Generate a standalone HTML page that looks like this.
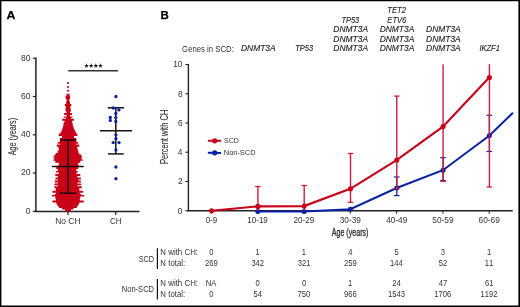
<!DOCTYPE html>
<html><head><meta charset="utf-8"><style>
html,body{margin:0;padding:0;background:#fff;width:520px;height:307px;overflow:hidden}
svg{display:block;will-change:transform}
text{font-family:"Liberation Sans", sans-serif;font-kerning:none}
</style></head><body>
<svg width="520" height="307" viewBox="0 0 520 307">
<rect width="520" height="307" fill="#fff"/>
<path d="M0 0H520V307H0Z M1.4 1.2V305.4H518.4V1.2Z" fill="#000" fill-rule="evenodd"/>
<text x="6.59" y="18.60" font-size="11.77" fill="#000" textLength="8.93" lengthAdjust="spacingAndGlyphs" font-weight="bold" stroke="#000" stroke-width="0.25">A</text>
<line x1="35.9" y1="57.5" x2="35.9" y2="212.1" stroke="#222" stroke-width="1.5"/>
<line x1="32.8" y1="58.2" x2="35.9" y2="58.2" stroke="#222" stroke-width="1.2"/>
<text x="21.00" y="60.60" font-size="8.58" fill="#333333" textLength="9.54" lengthAdjust="spacingAndGlyphs">80</text>
<line x1="32.8" y1="96.5" x2="35.9" y2="96.5" stroke="#222" stroke-width="1.2"/>
<text x="21.00" y="98.90" font-size="8.58" fill="#333333" textLength="9.54" lengthAdjust="spacingAndGlyphs">60</text>
<line x1="32.8" y1="134.8" x2="35.9" y2="134.8" stroke="#222" stroke-width="1.2"/>
<text x="21.00" y="137.20" font-size="8.58" fill="#333333" textLength="9.54" lengthAdjust="spacingAndGlyphs">40</text>
<line x1="32.8" y1="173.0" x2="35.9" y2="173.0" stroke="#222" stroke-width="1.2"/>
<text x="21.00" y="175.40" font-size="8.58" fill="#333333" textLength="9.54" lengthAdjust="spacingAndGlyphs">20</text>
<line x1="32.8" y1="211.3" x2="35.9" y2="211.3" stroke="#222" stroke-width="1.2"/>
<text x="25.77" y="213.70" font-size="8.58" fill="#333333" textLength="4.77" lengthAdjust="spacingAndGlyphs">0</text>
<line x1="35.15" y1="211.4" x2="139.5" y2="211.4" stroke="#222" stroke-width="1.5"/>
<line x1="67.9" y1="211.4" x2="67.9" y2="214.9" stroke="#222" stroke-width="1.2"/>
<line x1="115.7" y1="211.4" x2="115.7" y2="214.9" stroke="#222" stroke-width="1.2"/>
<text x="55.31" y="224.20" font-size="8.87" fill="#333333" textLength="25.17" lengthAdjust="spacingAndGlyphs">No CH</text>
<text x="110.09" y="224.20" font-size="8.87" fill="#333333" textLength="11.56" lengthAdjust="spacingAndGlyphs">CH</text>
<text transform="rotate(-90)" x="-155.21" y="15.50" font-size="10.03" fill="#333333" textLength="37.26" lengthAdjust="spacingAndGlyphs" stroke="#333333" stroke-width="0.12">Age (years)</text>
<line x1="68.2" y1="70.8" x2="118" y2="70.8" stroke="#333" stroke-width="1.4"/>
<polygon points="86.50,63.30 87.09,64.89 88.78,64.96 87.45,66.01 87.91,67.64 86.50,66.70 85.09,67.64 85.55,66.01 84.22,64.96 85.91,64.89" fill="#111"/>
<polygon points="91.15,63.30 91.74,64.89 93.43,64.96 92.10,66.01 92.56,67.64 91.15,66.70 89.74,67.64 90.20,66.01 88.87,64.96 90.56,64.89" fill="#111"/>
<polygon points="95.80,63.30 96.39,64.89 98.08,64.96 96.75,66.01 97.21,67.64 95.80,66.70 94.39,67.64 94.85,66.01 93.52,64.96 95.21,64.89" fill="#111"/>
<polygon points="100.45,63.30 101.04,64.89 102.73,64.96 101.40,66.01 101.86,67.64 100.45,66.70 99.04,67.64 99.50,66.01 98.17,64.96 99.86,64.89" fill="#111"/>
<path d="M66.60,93.70 L66.60,95.70 L65.60,95.70 L65.60,99.10 L66.60,99.10 L66.60,101.50 L66.10,101.50 L66.10,104.00 L64.80,104.00 L64.80,106.40 L66.10,106.40 L66.10,107.90 L65.40,107.90 L65.40,110.00 L65.60,110.00 L65.60,111.50 L66.60,111.50 L66.60,112.90 L64.10,112.90 L64.10,114.90 L66.60,114.90 L66.60,116.40 L63.70,116.40 L63.70,117.80 L66.10,117.80 L66.10,118.80 L62.20,118.80 L62.20,120.80 L64.60,120.80 L64.60,122.20 L63.70,122.20 L63.70,124.00 L63.50,124.00 L63.50,125.70 L63.00,125.70 L63.00,127.60 L62.50,127.60 L62.50,129.60 L61.70,129.60 L61.70,131.50 L60.70,131.50 L60.70,133.50 L58.80,133.50 L58.80,135.90 L62.00,135.90 L62.00,137.90 L59.90,137.90 L59.90,139.50 L60.30,139.50 L60.30,140.60 L59.50,140.60 L59.50,142.20 L57.60,142.20 L57.60,143.70 L60.30,143.70 L60.30,144.50 L56.80,144.50 L56.80,146.80 L58.40,146.80 L58.40,148.30 L58.80,148.30 L58.80,150.60 L57.60,150.60 L57.60,153.00 L55.80,153.00 L55.80,154.40 L54.40,154.40 L54.40,156.40 L53.40,156.40 L53.40,157.80 L54.40,157.80 L54.40,159.30 L53.40,159.30 L53.40,160.80 L55.30,160.80 L55.30,162.70 L58.80,162.70 L58.80,165.70 L57.00,165.70 L57.00,167.10 L56.30,167.10 L56.30,169.10 L57.80,169.10 L57.80,171.00 L55.80,171.00 L55.80,172.50 L58.80,172.50 L58.80,174.00 L55.30,174.00 L55.30,176.00 L57.80,176.00 L57.80,177.40 L55.50,177.40 L55.50,179.50 L57.80,179.50 L57.80,180.40 L54.80,180.40 L54.80,182.40 L57.80,182.40 L57.80,183.40 L54.40,183.40 L54.40,185.30 L57.80,185.30 L57.80,186.30 L54.40,186.30 L54.40,188.30 L55.80,188.30 L55.80,190.70 L52.40,190.70 L52.40,192.70 L55.80,192.70 L55.80,194.10 L54.80,194.10 L54.80,195.10 L51.90,195.10 L51.90,196.60 L55.30,196.60 L55.30,198.50 L55.80,198.50 L55.80,200.50 L52.40,200.50 L52.40,202.50 L56.30,202.50 L56.30,203.90 L57.30,203.90 L57.30,205.90 L58.80,205.90 L58.80,208.00 L62.00,208.00 L62.00,209.50 L65.00,209.50 L65.00,211.00 L68.00,212.00 L71.00,211.00 L71.00,209.50 L73.50,209.50 L73.50,208.00 L76.90,208.00 L76.90,205.90 L78.30,205.90 L78.30,203.90 L79.30,203.90 L79.30,202.50 L83.70,202.50 L83.70,200.50 L79.80,200.50 L79.80,198.50 L80.30,198.50 L80.30,196.60 L84.20,196.60 L84.20,195.10 L81.30,195.10 L81.30,194.10 L79.80,194.10 L79.80,192.70 L83.20,192.70 L83.20,190.70 L79.30,190.70 L79.30,188.30 L81.80,188.30 L81.80,186.30 L77.40,186.30 L77.40,185.30 L81.30,185.30 L81.30,183.40 L77.40,183.40 L77.40,182.40 L80.80,182.40 L80.80,180.40 L78.30,180.40 L78.30,179.50 L80.80,179.50 L80.80,177.40 L77.40,177.40 L77.40,176.00 L80.30,176.00 L80.30,174.00 L76.40,174.00 L76.40,172.50 L77.80,172.50 L77.80,171.00 L76.40,171.00 L76.40,169.10 L78.30,169.10 L78.30,167.10 L79.00,167.10 L79.00,165.70 L78.30,165.70 L78.30,162.70 L80.30,162.70 L80.30,160.80 L82.70,160.80 L82.70,159.30 L81.30,159.30 L81.30,157.80 L82.20,157.80 L82.20,156.40 L81.30,156.40 L81.30,154.40 L79.30,154.40 L79.30,153.00 L78.40,153.00 L78.40,150.60 L77.60,150.60 L77.60,148.30 L77.20,148.30 L77.20,146.80 L79.20,146.80 L79.20,144.50 L75.70,144.50 L75.70,143.70 L78.40,143.70 L78.40,142.20 L76.50,142.20 L76.50,140.60 L75.70,140.60 L75.70,139.50 L76.10,139.50 L76.10,137.90 L74.00,137.90 L74.00,135.90 L77.40,135.90 L77.40,133.50 L75.90,133.50 L75.90,131.50 L74.90,131.50 L74.90,129.60 L73.90,129.60 L73.90,127.60 L73.30,127.60 L73.30,125.70 L72.80,125.70 L72.80,124.00 L72.50,124.00 L72.50,122.20 L72.00,122.20 L72.00,120.80 L73.90,120.80 L73.90,118.80 L71.00,118.80 L71.00,117.80 L72.50,117.80 L72.50,116.40 L70.00,116.40 L70.00,114.90 L72.00,114.90 L72.00,112.90 L70.00,112.90 L70.00,111.50 L71.00,111.50 L71.00,110.00 L70.70,110.00 L70.70,107.90 L70.00,107.90 L70.00,106.40 L71.30,106.40 L71.30,104.00 L70.00,104.00 L70.00,101.50 L69.30,101.50 L69.30,99.10 L70.00,99.10 L70.00,95.70 L69.50,95.70 L69.50,93.70Z" fill="#c80018"/>
<circle cx="68.06" cy="83.1" r="1.05" fill="#c80018"/>
<circle cx="68.06" cy="87.0" r="1.05" fill="#c80018"/>
<circle cx="68.06" cy="90.8" r="1.05" fill="#c80018"/>
<g stroke="#1a0a0a" stroke-width="1.5">
<line x1="68.1" y1="140.0" x2="68.1" y2="193.2"/>
<line x1="60.0" y1="140.0" x2="76.3" y2="140.0"/>
<line x1="51.9" y1="166.4" x2="83.7" y2="166.4"/>
<line x1="59.8" y1="193.2" x2="76.3" y2="193.2"/>
</g>
<g stroke="#151515" stroke-width="1.5">
<line x1="115.8" y1="107.8" x2="115.8" y2="153.9"/>
<line x1="107.7" y1="107.8" x2="124" y2="107.8"/>
<line x1="99.9" y1="130.7" x2="132.1" y2="130.7"/>
<line x1="108.1" y1="153.9" x2="123.7" y2="153.9"/>
</g>
<circle cx="115.9" cy="96.5" r="1.65" fill="#0820a6"/>
<circle cx="113.2" cy="108" r="1.65" fill="#0820a6"/>
<circle cx="118.9" cy="109.9" r="1.65" fill="#0820a6"/>
<circle cx="115.8" cy="113.5" r="1.65" fill="#0820a6"/>
<circle cx="110.3" cy="117.4" r="1.65" fill="#0820a6"/>
<circle cx="110.3" cy="120.4" r="1.65" fill="#0820a6"/>
<circle cx="115.8" cy="117.6" r="1.65" fill="#0820a6"/>
<circle cx="115.8" cy="121.5" r="1.65" fill="#0820a6"/>
<circle cx="115.9" cy="134.8" r="1.65" fill="#0820a6"/>
<circle cx="115.9" cy="138.7" r="1.65" fill="#0820a6"/>
<circle cx="113.2" cy="142.6" r="1.65" fill="#0820a6"/>
<circle cx="119" cy="142.6" r="1.65" fill="#0820a6"/>
<circle cx="115.9" cy="150" r="1.65" fill="#0820a6"/>
<circle cx="115.9" cy="167" r="1.65" fill="#0820a6"/>
<circle cx="115.9" cy="178.7" r="1.65" fill="#0820a6"/>
<text x="160.43" y="18.60" font-size="11.77" fill="#000" textLength="8.29" lengthAdjust="spacingAndGlyphs" font-weight="bold" stroke="#000" stroke-width="0.25">B</text>
<line x1="188.4" y1="64.0" x2="188.4" y2="211.39999999999998" stroke="#222" stroke-width="1.4"/>
<line x1="185.4" y1="210.70" x2="188.4" y2="210.70" stroke="#222" stroke-width="1.1"/>
<text x="177.85" y="213.65" font-size="8.58" fill="#333333" textLength="4.67" lengthAdjust="spacingAndGlyphs">0</text>
<line x1="185.4" y1="181.46" x2="188.4" y2="181.46" stroke="#222" stroke-width="1.1"/>
<text x="177.95" y="184.41" font-size="8.58" fill="#333333" textLength="4.67" lengthAdjust="spacingAndGlyphs">2</text>
<line x1="185.4" y1="152.22" x2="188.4" y2="152.22" stroke="#222" stroke-width="1.1"/>
<text x="177.77" y="155.17" font-size="8.58" fill="#333333" textLength="4.67" lengthAdjust="spacingAndGlyphs">4</text>
<line x1="185.4" y1="122.98" x2="188.4" y2="122.98" stroke="#222" stroke-width="1.1"/>
<text x="177.90" y="125.93" font-size="8.58" fill="#333333" textLength="4.67" lengthAdjust="spacingAndGlyphs">6</text>
<line x1="185.4" y1="93.74" x2="188.4" y2="93.74" stroke="#222" stroke-width="1.1"/>
<text x="177.89" y="96.69" font-size="8.58" fill="#333333" textLength="4.67" lengthAdjust="spacingAndGlyphs">8</text>
<line x1="185.4" y1="64.50" x2="188.4" y2="64.50" stroke="#222" stroke-width="1.1"/>
<text x="173.18" y="67.45" font-size="8.58" fill="#333333" textLength="9.35" lengthAdjust="spacingAndGlyphs">10</text>
<line x1="187.70000000000002" y1="210.7" x2="512.7" y2="210.7" stroke="#222" stroke-width="1.4"/>
<line x1="211.40" y1="210.7" x2="211.40" y2="213.7" stroke="#222" stroke-width="1"/>
<text x="205.69" y="222.90" font-size="8.28" fill="#333333" textLength="11.49" lengthAdjust="spacingAndGlyphs">0-9</text>
<line x1="257.70" y1="210.7" x2="257.70" y2="213.7" stroke="#222" stroke-width="1"/>
<text x="247.34" y="222.90" font-size="8.28" fill="#333333" textLength="20.49" lengthAdjust="spacingAndGlyphs">10-19</text>
<line x1="304.00" y1="210.7" x2="304.00" y2="213.7" stroke="#222" stroke-width="1"/>
<text x="293.59" y="222.90" font-size="8.28" fill="#333333" textLength="20.79" lengthAdjust="spacingAndGlyphs">20-29</text>
<line x1="350.30" y1="210.7" x2="350.30" y2="213.7" stroke="#222" stroke-width="1"/>
<text x="339.73" y="222.90" font-size="8.28" fill="#333333" textLength="21.21" lengthAdjust="spacingAndGlyphs">30-39</text>
<line x1="396.60" y1="210.7" x2="396.60" y2="213.7" stroke="#222" stroke-width="1"/>
<text x="386.16" y="222.90" font-size="8.28" fill="#333333" textLength="21.08" lengthAdjust="spacingAndGlyphs">40-49</text>
<line x1="442.90" y1="210.7" x2="442.90" y2="213.7" stroke="#222" stroke-width="1"/>
<text x="432.32" y="222.90" font-size="8.28" fill="#333333" textLength="21.23" lengthAdjust="spacingAndGlyphs">50-59</text>
<line x1="489.20" y1="210.7" x2="489.20" y2="213.7" stroke="#222" stroke-width="1"/>
<text x="478.53" y="222.90" font-size="8.28" fill="#333333" textLength="21.32" lengthAdjust="spacingAndGlyphs">60-69</text>
<text transform="rotate(-90)" x="-164.02" y="168.30" font-size="10.47" fill="#333333" textLength="54.33" lengthAdjust="spacingAndGlyphs" stroke="#333333" stroke-width="0.1">Percent with CH</text>
<text x="331.79" y="236.20" font-size="10.32" fill="#333333" textLength="36.65" lengthAdjust="spacingAndGlyphs" stroke="#333333" stroke-width="0.35">Age (years)</text>
<polyline points="257.70,211.50 304.00,211.50 350.30,209.20 396.60,188.00 442.90,170.20 489.20,135.80 512.4,113.2" fill="none" stroke="#0820a6" stroke-width="2.0" stroke-linecap="round"/>
<line x1="396.80" y1="177.0" x2="396.80" y2="195.6" stroke="#0820a6" stroke-width="1.3"/>
<line x1="393.90" y1="177.0" x2="399.50" y2="177.0" stroke="#0820a6" stroke-width="1.2"/>
<line x1="393.90" y1="195.6" x2="399.50" y2="195.6" stroke="#0820a6" stroke-width="1.2"/>
<line x1="443.10" y1="157.7" x2="443.10" y2="180.5" stroke="#0820a6" stroke-width="1.3"/>
<line x1="440.20" y1="157.7" x2="445.80" y2="157.7" stroke="#0820a6" stroke-width="1.2"/>
<line x1="440.20" y1="180.5" x2="445.80" y2="180.5" stroke="#0820a6" stroke-width="1.2"/>
<line x1="489.40" y1="115.3" x2="489.40" y2="151.5" stroke="#0820a6" stroke-width="1.3"/>
<line x1="486.50" y1="115.3" x2="492.10" y2="115.3" stroke="#0820a6" stroke-width="1.2"/>
<line x1="486.50" y1="151.5" x2="492.10" y2="151.5" stroke="#0820a6" stroke-width="1.2"/>
<circle cx="257.80" cy="211.5" r="2.5" fill="#0820a6"/>
<circle cx="304.10" cy="211.5" r="2.5" fill="#0820a6"/>
<circle cx="350.40" cy="209.2" r="2.5" fill="#0820a6"/>
<circle cx="396.70" cy="188.0" r="2.5" fill="#0820a6"/>
<circle cx="443.00" cy="170.2" r="2.5" fill="#0820a6"/>
<circle cx="489.30" cy="135.8" r="2.5" fill="#0820a6"/>
<polyline points="211.40,210.80 257.70,206.40 304.00,206.10 350.30,188.80 396.60,160.10 442.90,126.60 489.20,77.50" fill="none" stroke="#c80018" stroke-width="2.1"/>
<line x1="257.90" y1="186.5" x2="257.90" y2="210.8" stroke="#d01c3a" stroke-width="1.4"/>
<line x1="255.20" y1="186.5" x2="260.60" y2="186.5" stroke="#d01c3a" stroke-width="1.3"/>
<line x1="304.20" y1="185.5" x2="304.20" y2="210.8" stroke="#d01c3a" stroke-width="1.4"/>
<line x1="301.50" y1="185.5" x2="306.90" y2="185.5" stroke="#d01c3a" stroke-width="1.3"/>
<line x1="350.50" y1="153.5" x2="350.50" y2="202.3" stroke="#d01c3a" stroke-width="1.4"/>
<line x1="347.80" y1="153.5" x2="353.20" y2="153.5" stroke="#d01c3a" stroke-width="1.3"/>
<line x1="347.80" y1="202.3" x2="353.20" y2="202.3" stroke="#d01c3a" stroke-width="1.3"/>
<line x1="396.80" y1="96.1" x2="396.80" y2="188.8" stroke="#d01c3a" stroke-width="1.4"/>
<line x1="394.10" y1="96.1" x2="399.50" y2="96.1" stroke="#d01c3a" stroke-width="1.3"/>
<line x1="394.10" y1="188.8" x2="399.50" y2="188.8" stroke="#d01c3a" stroke-width="1.3"/>
<line x1="443.10" y1="64.2" x2="443.10" y2="181.4" stroke="#d01c3a" stroke-width="1.4"/>
<line x1="440.40" y1="181.4" x2="445.80" y2="181.4" stroke="#d01c3a" stroke-width="1.3"/>
<line x1="489.40" y1="64.2" x2="489.40" y2="187" stroke="#d01c3a" stroke-width="1.4"/>
<line x1="486.70" y1="187" x2="492.10" y2="187" stroke="#d01c3a" stroke-width="1.3"/>
<circle cx="211.60" cy="210.8" r="2.55" fill="#c80018"/>
<circle cx="257.90" cy="206.4" r="2.55" fill="#c80018"/>
<circle cx="304.20" cy="206.1" r="2.55" fill="#c80018"/>
<circle cx="350.50" cy="188.8" r="2.55" fill="#c80018"/>
<circle cx="396.80" cy="160.1" r="2.55" fill="#c80018"/>
<circle cx="443.10" cy="126.6" r="2.55" fill="#c80018"/>
<circle cx="489.40" cy="77.5" r="2.55" fill="#c80018"/>
<line x1="207.9" y1="140.85" x2="221.1" y2="140.8" stroke="#c80018" stroke-width="2"/><circle cx="214.7" cy="140.85" r="2.6" fill="#c80018"/>
<line x1="207.9" y1="152.8" x2="221.1" y2="152.9" stroke="#0820a6" stroke-width="2"/><circle cx="214.7" cy="152.8" r="2.6" fill="#0820a6"/>
<text x="224.08" y="143.30" font-size="7.99" fill="#333333" textLength="14.86" lengthAdjust="spacingAndGlyphs">SCD</text>
<text x="223.79" y="155.20" font-size="7.99" fill="#333333" textLength="31.76" lengthAdjust="spacingAndGlyphs">Non-SCD</text>
<text x="182.11" y="51.60" font-size="9.16" fill="#333333" textLength="51.70" lengthAdjust="spacingAndGlyphs">Genes in SCD:</text>
<text x="240.94" y="51.30" font-size="8.87" fill="#1c1c1c" textLength="34.71" lengthAdjust="spacingAndGlyphs" font-style="italic" stroke="#1c1c1c" stroke-width="0.12">DNMT3A</text>
<text x="295.28" y="51.30" font-size="8.87" fill="#1c1c1c" textLength="17.84" lengthAdjust="spacingAndGlyphs" font-style="italic" stroke="#1c1c1c" stroke-width="0.12">TP53</text>
<text x="341.38" y="22.70" font-size="8.87" fill="#1c1c1c" textLength="17.84" lengthAdjust="spacingAndGlyphs" font-style="italic" stroke="#1c1c1c" stroke-width="0.12">TP53</text>
<text x="333.34" y="32.30" font-size="8.87" fill="#1c1c1c" textLength="34.71" lengthAdjust="spacingAndGlyphs" font-style="italic" stroke="#1c1c1c" stroke-width="0.12">DNMT3A</text>
<text x="333.34" y="41.80" font-size="8.87" fill="#1c1c1c" textLength="34.71" lengthAdjust="spacingAndGlyphs" font-style="italic" stroke="#1c1c1c" stroke-width="0.12">DNMT3A</text>
<text x="333.34" y="51.30" font-size="8.87" fill="#1c1c1c" textLength="34.71" lengthAdjust="spacingAndGlyphs" font-style="italic" stroke="#1c1c1c" stroke-width="0.12">DNMT3A</text>
<text x="387.26" y="13.20" font-size="8.87" fill="#1c1c1c" textLength="18.70" lengthAdjust="spacingAndGlyphs" font-style="italic" stroke="#1c1c1c" stroke-width="0.12">TET2</text>
<text x="387.37" y="22.70" font-size="8.87" fill="#1c1c1c" textLength="18.83" lengthAdjust="spacingAndGlyphs" font-style="italic" stroke="#1c1c1c" stroke-width="0.12">ETV6</text>
<text x="379.64" y="32.30" font-size="8.87" fill="#1c1c1c" textLength="34.71" lengthAdjust="spacingAndGlyphs" font-style="italic" stroke="#1c1c1c" stroke-width="0.12">DNMT3A</text>
<text x="379.64" y="41.80" font-size="8.87" fill="#1c1c1c" textLength="34.71" lengthAdjust="spacingAndGlyphs" font-style="italic" stroke="#1c1c1c" stroke-width="0.12">DNMT3A</text>
<text x="379.64" y="51.30" font-size="8.87" fill="#1c1c1c" textLength="34.71" lengthAdjust="spacingAndGlyphs" font-style="italic" stroke="#1c1c1c" stroke-width="0.12">DNMT3A</text>
<text x="426.04" y="32.30" font-size="8.87" fill="#1c1c1c" textLength="34.71" lengthAdjust="spacingAndGlyphs" font-style="italic" stroke="#1c1c1c" stroke-width="0.12">DNMT3A</text>
<text x="426.04" y="41.80" font-size="8.87" fill="#1c1c1c" textLength="34.71" lengthAdjust="spacingAndGlyphs" font-style="italic" stroke="#1c1c1c" stroke-width="0.12">DNMT3A</text>
<text x="426.04" y="51.30" font-size="8.87" fill="#1c1c1c" textLength="34.71" lengthAdjust="spacingAndGlyphs" font-style="italic" stroke="#1c1c1c" stroke-width="0.12">DNMT3A</text>
<text x="479.45" y="51.30" font-size="8.87" fill="#1c1c1c" textLength="20.43" lengthAdjust="spacingAndGlyphs" font-style="italic" stroke="#1c1c1c" stroke-width="0.12">IKZF1</text>
<text x="138.67" y="261.80" font-size="8.43" fill="#333333" textLength="15.38" lengthAdjust="spacingAndGlyphs">SCD</text>
<text x="121.78" y="292.40" font-size="8.43" fill="#333333" textLength="32.28" lengthAdjust="spacingAndGlyphs">Non-SCD</text>
<line x1="157.4" y1="248.2" x2="157.4" y2="269.0" stroke="#111" stroke-width="1.2"/>
<line x1="157.4" y1="278.9" x2="157.4" y2="299.4" stroke="#111" stroke-width="1.2"/>
<text x="160.35" y="255.40" font-size="8.28" fill="#333333" textLength="37.67" lengthAdjust="spacingAndGlyphs">N with CH:</text>
<text x="160.36" y="265.60" font-size="8.28" fill="#333333" textLength="24.86" lengthAdjust="spacingAndGlyphs">N total:</text>
<text x="160.35" y="286.20" font-size="8.28" fill="#333333" textLength="37.67" lengthAdjust="spacingAndGlyphs">N with CH:</text>
<text x="160.36" y="297.00" font-size="8.28" fill="#333333" textLength="24.86" lengthAdjust="spacingAndGlyphs">N total:</text>
<text x="209.28" y="255.40" font-size="8.28" fill="#333333" textLength="4.24" lengthAdjust="spacingAndGlyphs">0</text>
<text x="205.03" y="265.60" font-size="8.28" fill="#333333" textLength="12.72" lengthAdjust="spacingAndGlyphs">269</text>
<text x="205.80" y="286.20" font-size="8.28" fill="#333333" textLength="10.59" lengthAdjust="spacingAndGlyphs">NA</text>
<text x="209.28" y="297.10" font-size="8.28" fill="#333333" textLength="4.24" lengthAdjust="spacingAndGlyphs">0</text>
<text x="255.48" y="255.40" font-size="8.28" fill="#333333" textLength="4.24" lengthAdjust="spacingAndGlyphs">1</text>
<text x="251.39" y="265.60" font-size="8.28" fill="#333333" textLength="12.72" lengthAdjust="spacingAndGlyphs">342</text>
<text x="255.58" y="286.20" font-size="8.28" fill="#333333" textLength="4.24" lengthAdjust="spacingAndGlyphs">0</text>
<text x="253.42" y="297.10" font-size="8.28" fill="#333333" textLength="8.48" lengthAdjust="spacingAndGlyphs">54</text>
<text x="301.78" y="255.40" font-size="8.28" fill="#333333" textLength="4.24" lengthAdjust="spacingAndGlyphs">1</text>
<text x="297.68" y="265.60" font-size="8.28" fill="#333333" textLength="12.72" lengthAdjust="spacingAndGlyphs">321</text>
<text x="301.88" y="286.20" font-size="8.28" fill="#333333" textLength="4.24" lengthAdjust="spacingAndGlyphs">0</text>
<text x="297.59" y="297.10" font-size="8.28" fill="#333333" textLength="12.72" lengthAdjust="spacingAndGlyphs">750</text>
<text x="348.20" y="255.40" font-size="8.28" fill="#333333" textLength="4.24" lengthAdjust="spacingAndGlyphs">4</text>
<text x="343.93" y="265.60" font-size="8.28" fill="#333333" textLength="12.72" lengthAdjust="spacingAndGlyphs">259</text>
<text x="348.08" y="286.20" font-size="8.28" fill="#333333" textLength="4.24" lengthAdjust="spacingAndGlyphs">1</text>
<text x="343.93" y="297.10" font-size="8.28" fill="#333333" textLength="12.72" lengthAdjust="spacingAndGlyphs">966</text>
<text x="394.49" y="255.40" font-size="8.28" fill="#333333" textLength="4.24" lengthAdjust="spacingAndGlyphs">5</text>
<text x="390.06" y="265.60" font-size="8.28" fill="#333333" textLength="12.72" lengthAdjust="spacingAndGlyphs">144</text>
<text x="392.28" y="286.20" font-size="8.28" fill="#333333" textLength="8.48" lengthAdjust="spacingAndGlyphs">24</text>
<text x="388.00" y="297.10" font-size="8.28" fill="#333333" textLength="16.96" lengthAdjust="spacingAndGlyphs">1543</text>
<text x="440.80" y="255.40" font-size="8.28" fill="#333333" textLength="4.24" lengthAdjust="spacingAndGlyphs">3</text>
<text x="438.70" y="265.60" font-size="8.28" fill="#333333" textLength="8.48" lengthAdjust="spacingAndGlyphs">52</text>
<text x="438.77" y="286.20" font-size="8.28" fill="#333333" textLength="8.48" lengthAdjust="spacingAndGlyphs">47</text>
<text x="434.30" y="297.10" font-size="8.28" fill="#333333" textLength="16.96" lengthAdjust="spacingAndGlyphs">1706</text>
<text x="486.98" y="255.40" font-size="8.28" fill="#333333" textLength="4.24" lengthAdjust="spacingAndGlyphs">1</text>
<text x="484.86" y="265.60" font-size="8.28" fill="#333333" textLength="8.48" lengthAdjust="spacingAndGlyphs">11</text>
<text x="484.95" y="286.20" font-size="8.28" fill="#333333" textLength="8.48" lengthAdjust="spacingAndGlyphs">61</text>
<text x="480.62" y="297.10" font-size="8.28" fill="#333333" textLength="16.96" lengthAdjust="spacingAndGlyphs">1192</text>
</svg>
</body></html>
